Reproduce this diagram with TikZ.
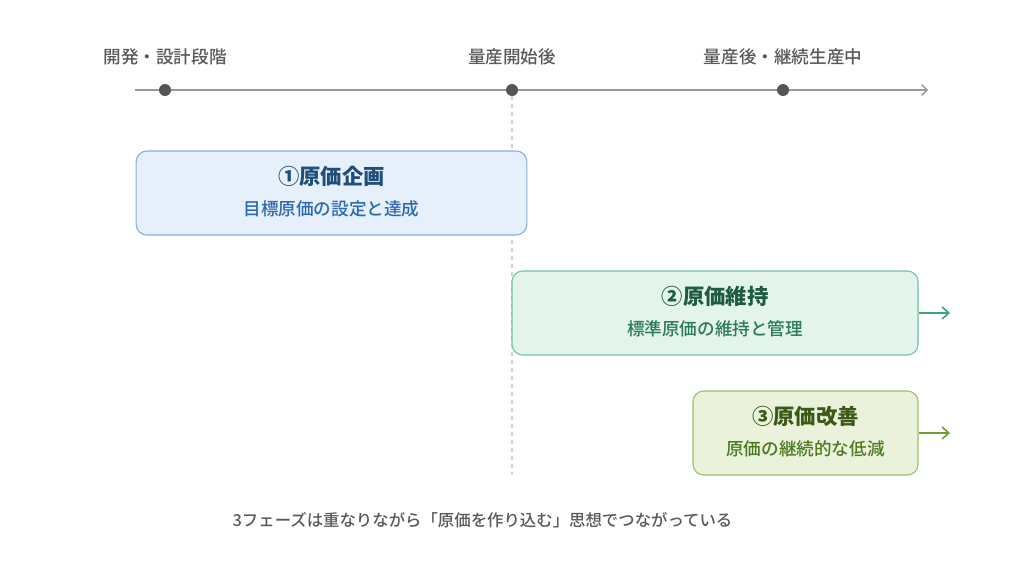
\documentclass[tikz,border=0pt]{standalone}
\usepackage{fontspec}
\setmainfont{Noto Sans CJK JP}
\newfontfamily\medfont{Noto Sans CJK JP Medium}
\usetikzlibrary{arrows.meta,positioning}

\definecolor{axisgray}{HTML}{9A9A9A}
\definecolor{dotgray}{HTML}{555555}
\definecolor{txtgray}{HTML}{595959}
\definecolor{dashgray}{HTML}{D0D0D0}
\definecolor{planfill}{HTML}{E6F0FB}
\definecolor{plandraw}{HTML}{86ADDB}
\definecolor{plantitle}{HTML}{1F4E79}
\definecolor{plansub}{HTML}{2C68AE}
\definecolor{keepfill}{HTML}{E2F4EC}
\definecolor{keepdraw}{HTML}{72C29C}
\definecolor{keeptitle}{HTML}{1E5A44}
\definecolor{keepsub}{HTML}{2A7A59}
\definecolor{keeparrow}{HTML}{3AA57A}
\definecolor{impfill}{HTML}{EAF2DC}
\definecolor{impdraw}{HTML}{96BF66}
\definecolor{imptitle}{HTML}{3B5A17}
\definecolor{impsub}{HTML}{4C7A1E}
\definecolor{imparrow}{HTML}{6CA033}

\tikzset{
  phase/.style={rounded corners=8pt, line width=0.8pt, minimum height=63pt},
  ttl/.style={font=\bfseries\fontsize{16}{18}\selectfont},
  sub/.style={font=\medfont\fontsize{13.2}{15}\selectfont},
  stage/.style={font=\medfont\fontsize{13.2}{15}\selectfont, text=txtgray},
  milestone/.style={circle, fill=dotgray, inner sep=0pt, minimum size=9pt},
  flow/.style={-{Straight Barb[length=5pt,width=9pt]}, line width=1.2pt}
}

\begin{document}
\begin{tikzpicture}[x=0.75pt,y=-0.75pt]
  \useasboundingbox (0,0) rectangle (1024,572);

  % timeline
  \coordinate (tstart) at (135,90);
  \coordinate (tend) at (928,90);
  \draw[axisgray, line width=1pt, -{Straight Barb[length=4pt,width=8pt]}] (tstart) -- (tend);
  \node[milestone] (m1) at (165,90) {};
  \node[milestone] (m2) at (512,90) {};
  \node[milestone] (m3) at (783,90) {};
  \node[stage] (s1) at (165,57) {開発・設計段階};
  \node[stage] (s2) at (512,57) {量産開始後};
  \node[stage] (s3) at (783,57) {量産後・継続生産中};

  \coordinate (dend) at (512,475);
  \draw[dashgray, dashed, line width=0.8pt] (m2) -- (dend);

  % phases
  \node[phase, fill=planfill, draw=plandraw, minimum width=293pt] (p1) at (331.5,193) {};
  \node[ttl, text=plantitle] (t1) at (331.5,176) {①原価企画};
  \node[sub, text=plansub] (u1) at (331.5,209) {目標原価の設定と達成};

  \node[phase, fill=keepfill, draw=keepdraw, minimum width=304.5pt] (p2) at (715,313) {};
  \node[ttl, text=keeptitle] (t2) at (715,296) {②原価維持};
  \node[sub, text=keepsub] (u2) at (715,329) {標準原価の維持と管理};

  \node[phase, fill=impfill, draw=impdraw, minimum width=168.75pt] (p3) at (805.5,433) {};
  \node[ttl, text=imptitle] (t3) at (805.5,416) {③原価改善};
  \node[sub, text=impsub] (u3) at (805.5,449) {原価の継続的な低減};

  \coordinate (a2) at (950,313);
  \coordinate (a3) at (950,433);
  \draw[flow, keeparrow] (p2.east) -- (a2);
  \draw[flow, imparrow] (p3.east) -- (a3);

  \node[font=\medfont\fontsize{12.3}{14}\selectfont, text=txtgray] (note) at (482.5,520)
    {3フェーズは重なりながら「原価を作り込む」思想でつながっている};
\end{tikzpicture}
\end{document}
